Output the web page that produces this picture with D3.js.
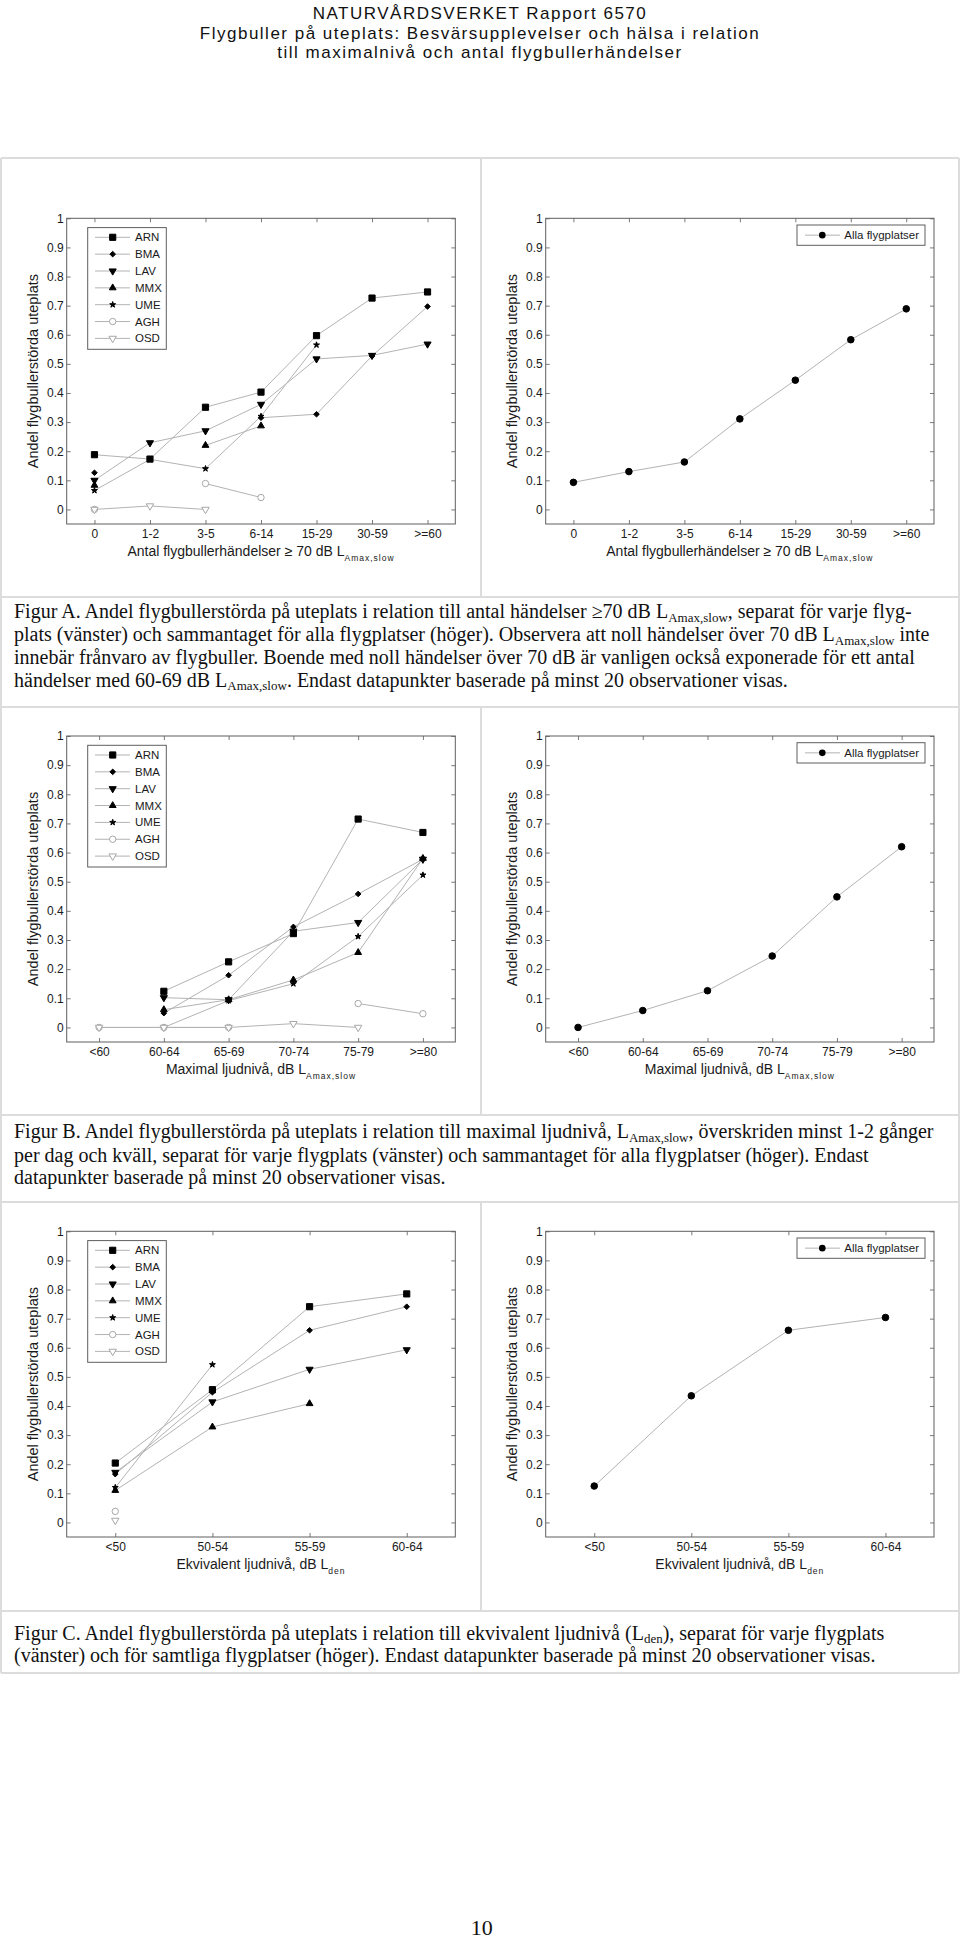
<!DOCTYPE html>
<html><head><meta charset="utf-8">
<script src="https://cdn.jsdelivr.net/npm/d3@7"></script>
<style>body{margin:0;background:#fff}svg{display:block}</style>
</head><body>
<svg id="page" width="960" height="1939"></svg>
<script>
// ---------------- DATA ----------------
const catsA = ["0","1-2","3-5","6-14","15-29","30-59",">=60"];
const catsB = ["<60","60-64","65-69","70-74","75-79",">=80"];
const catsC = ["<50","50-54","55-59","60-64"];
const sites = ["ARN","BMA","LAV","MMX","UME","AGH","OSD"];
const yTicks = [0,0.1,0.2,0.3,0.4,0.5,0.6,0.7,0.8,0.9,1];
const yTickLabels = ["0","0.1","0.2","0.3","0.4","0.5","0.6","0.7","0.8","0.9","1"];
const allLabel = "Alla flygplatser";

// Figur A – antal händelser >= 70 dB
const A_ARN = [0.188,0.173,0.351,0.403,0.597,0.726,0.747];
const A_BMA = [0.126,null,null,0.315,0.327,0.527,0.697];
const A_LAV = [0.100,0.229,0.270,0.361,0.517,0.529,0.568];
const A_MMX = [0.083,null,0.220,0.287,null,null,null];
const A_UME = [0.065,0.172,0.140,0.320,0.565,null,null];
const A_AGH = [0.000,null,0.089,0.041,null,null,null];
const A_OSD = [0.000,0.012,0.000,null,null,null,null];
const A_ALL = [0.093,0.130,0.163,0.311,0.444,0.583,0.689];

// Figur B – maximal ljudnivå
const B_ARN = [null,0.124,0.225,0.322,0.715,0.669];
const B_BMA = [null,0.049,0.179,0.345,0.458,0.577];
const B_LAV = [null,0.102,0.095,0.330,0.360,0.577];
const B_MMX = [null,0.061,0.095,0.163,0.257,0.580];
const B_UME = [null,0.000,0.092,0.150,0.312,0.523];
const B_AGH = [0.000,0.000,0.000,null,0.082,0.047];
const B_OSD = [0.000,0.000,0.000,0.013,0.000,null];
const B_ALL = [0.000,0.058,0.126,0.245,0.448,0.620];

// Figur C – ekvivalent ljudnivå
const C_ARN = [0.204,0.456,0.741,0.785];
const C_BMA = [0.166,0.447,0.660,0.741];
const C_LAV = [0.172,0.414,0.526,0.593];
const C_MMX = [0.110,0.328,0.408,null];
const C_UME = [0.120,0.542,null,null];
const C_AGH = [0.038,null,null,null];
const C_OSD = [0.007,null,null,null];
const C_ALL = [0.125,0.435,0.660,0.704];

const yLabel = "Andel flygbullerstörda uteplats";
const xLabelA = [{t:"Antal flygbullerhändelser \u2265 70 dB L"},{t:"Amax,slow",sub:true}];
const xLabelB = [{t:"Maximal ljudnivå, dB L"},{t:"Amax,slow",sub:true}];
const xLabelC = [{t:"Ekvivalent ljudnivå, dB L"},{t:"den",sub:true}];

const header = ["NATURVÅRDSVERKET Rapport 6570",
  "Flygbuller på uteplats: Besvärsupplevelser och hälsa i relation",
  "till maximalnivå och antal flygbullerhändelser"];

const captionA = [
 [{t:"Figur A. Andel flygbullerstörda på uteplats i relation till antal händelser \u226570 dB L"},{t:"Amax,slow",sub:true},{t:", separat för varje flyg-"}],
 [{t:"plats (vänster) och sammantaget för alla flygplatser (höger). Observera att noll händelser över 70 dB L"},{t:"Amax,slow",sub:true},{t:" inte"}],
 [{t:"innebär frånvaro av flygbuller. Boende med noll händelser över 70 dB är vanligen också exponerade för ett antal"}],
 [{t:"händelser med 60-69 dB L"},{t:"Amax,slow",sub:true},{t:". Endast datapunkter baserade på minst 20 observationer visas."}]
];
const captionB = [
 [{t:"Figur B. Andel flygbullerstörda på uteplats i relation till maximal ljudnivå, L"},{t:"Amax,slow",sub:true},{t:", överskriden minst 1-2 gånger"}],
 [{t:"per dag och kväll, separat för varje flygplats (vänster) och sammantaget för alla flygplatser (höger). Endast"}],
 [{t:"datapunkter baserade på minst 20 observationer visas."}]
];
const captionC = [
 [{t:"Figur C. Andel flygbullerstörda på uteplats i relation till ekvivalent ljudnivå (L"},{t:"den",sub:true},{t:"), separat för varje flygplats"}],
 [{t:"(vänster) och för samtliga flygplatser (höger). Endast datapunkter baserade på minst 20 observationer visas."}]
];
const pageNumber = "10";

// ---------------- STYLE ----------------
const SANS = "'Liberation Sans', Arial, Helvetica, sans-serif";
const SERIF = "'Liberation Serif', 'Times New Roman', serif";
const LINE = "#b3b3b3", FRAME = "#5e5e5e", TICK = "#7a7a7a";
const diamond = d3.symbolDiamond2 || d3.symbolDiamond;
const markerStyle = {
  ARN:{type:d3.symbolSquare,size:38,fill:"#000",stroke:"#000",rot:0},
  BMA:{type:diamond,size:20,fill:"#000",stroke:"#000",rot:0},
  LAV:{type:d3.symbolTriangle,size:22,fill:"#000",stroke:"#000",rot:180},
  MMX:{type:d3.symbolTriangle,size:20,fill:"#000",stroke:"#000",rot:0},
  UME:{type:d3.symbolStar,size:11,fill:"#000",stroke:"#000",rot:0},
  AGH:{type:d3.symbolCircle,size:32,fill:"#fff",stroke:"#a8a8a8",rot:0},
  OSD:{type:d3.symbolTriangle,size:24,fill:"#fff",stroke:"#a8a8a8",rot:180},
  ALL:{type:d3.symbolCircle,size:34,fill:"#000",stroke:"#000",rot:0}
};

const svg = d3.select("#page");
svg.append("rect").attr("width",960).attr("height",1939).attr("fill","#fff");

function rich(sel, parts, subSize, shift, subSpacing){
  parts.forEach((p,i)=>{
    const ts = sel.append("tspan").text(p.t);
    if(p.sub){
      ts.attr("font-size",subSize).attr("dy",shift);
      if(subSpacing) ts.attr("letter-spacing",subSpacing);
    } else if(i>0 && parts[i-1].sub){
      ts.attr("dy",-shift);
    }
  });
}

// ---------------- TABLE ----------------
const tbl = svg.append("g").attr("stroke","#dcdcdc").attr("stroke-width",2).attr("fill","none");
const hLines = [158,597,707,1115,1202,1611,1673];
hLines.forEach(yv=>tbl.append("line").attr("x1",1).attr("x2",959).attr("y1",yv).attr("y2",yv));
tbl.append("line").attr("x1",1).attr("x2",1).attr("y1",158).attr("y2",1673);
tbl.append("line").attr("x1",959).attr("x2",959).attr("y1",158).attr("y2",1673);
[[158,597],[707,1115],[1202,1611]].forEach(([a,b])=>tbl.append("line").attr("x1",481).attr("x2",481).attr("y1",a).attr("y2",b));

// ---------------- HEADER ----------------
const hy = [18.5,38.5,58];
header.forEach((t,i)=>svg.append("text").attr("x",480).attr("y",hy[i]).attr("text-anchor","middle")
  .attr("font-family",SANS).attr("font-size",17).attr("letter-spacing",1.5).attr("fill","#111").text(t));

// ---------------- PANELS ----------------
function panel(cfg){
  const {left,right,top,bottom,cats,series,xLabel,legendKind} = cfg;
  const x = d3.scalePoint().domain(cats).range([left,right]).padding(0.5);
  const y = d3.scaleLinear().domain([-0.05,1]).range([bottom,top]);
  const g = svg.append("g");
  const fmt = d => yTickLabels[yTicks.indexOf(d)];
  const ax = [
    g.append("g").attr("transform",`translate(${left},0)`).call(d3.axisLeft(y).tickValues(yTicks).tickFormat(fmt).tickSize(-4).tickPadding(3)),
    g.append("g").attr("transform",`translate(${right},0)`).call(d3.axisRight(y).tickValues(yTicks).tickFormat("").tickSize(-4)),
    g.append("g").attr("transform",`translate(0,${bottom})`).call(d3.axisBottom(x).tickSize(-4).tickPadding(5)),
    g.append("g").attr("transform",`translate(0,${top})`).call(d3.axisTop(x).tickSize(-4).tickFormat(""))
  ];
  ax.forEach(a=>{
    a.attr("font-family",SANS).attr("font-size",12);
    a.select(".domain").remove();
    a.selectAll(".tick line").attr("stroke",TICK);
    a.selectAll(".tick text").attr("fill","#1a1a1a");
  });
  g.append("rect").attr("x",left).attr("y",top).attr("width",right-left).attr("height",bottom-top)
    .attr("fill","none").attr("stroke",FRAME).attr("stroke-width",1);

  const line = d3.line().defined(d=>d.v!=null).x(d=>x(d.c)).y(d=>y(d.v));
  series.forEach(s=>{
    const pts = cats.map((c,i)=>({c, v:s.values[i]}));
    g.append("path").attr("d",line(pts)).attr("fill","none").attr("stroke",LINE).attr("stroke-width",1);
  });
  series.forEach(s=>{
    const st = markerStyle[s.key];
    const sym = d3.symbol().type(st.type).size(st.size);
    const pts = cats.map((c,i)=>({c, v:s.values[i]})).filter(d=>d.v!=null);
    g.selectAll(null).data(pts).enter().append("path").attr("d",sym)
      .attr("transform",d=>`translate(${x(d.c)},${y(d.v)}) rotate(${st.rot})`)
      .attr("fill",st.fill).attr("stroke",st.stroke).attr("stroke-width",1);
  });

  // legend
  if(legendKind==="sites"){
    const bx=left+21, by=top+9.3, bw=78.6, bh=121.7;
    g.append("rect").attr("x",bx).attr("y",by).attr("width",bw).attr("height",bh).attr("fill","#fff").attr("stroke",FRAME);
    series.forEach((s,i)=>{
      const ey = by+9.7+i*16.85;
      const st = markerStyle[s.key];
      g.append("line").attr("x1",bx+7.3).attr("x2",bx+42.3).attr("y1",ey).attr("y2",ey).attr("stroke",LINE);
      g.append("path").attr("d",d3.symbol().type(st.type).size(st.size)).attr("transform",`translate(${bx+25},${ey}) rotate(${st.rot})`)
        .attr("fill",st.fill).attr("stroke",st.stroke);
      g.append("text").attr("x",bx+47.3).attr("y",ey+4).attr("font-family",SANS).attr("font-size",11.5).attr("fill","#1a1a1a").text(s.key);
    });
  } else {
    const bw=128, bx=right-9-bw, by=top+6.7, bh=20.3;
    const st = markerStyle.ALL;
    g.append("rect").attr("x",bx).attr("y",by).attr("width",bw).attr("height",bh).attr("fill","#fff").attr("stroke",FRAME);
    const ey = by+bh/2;
    g.append("line").attr("x1",bx+8).attr("x2",bx+43).attr("y1",ey).attr("y2",ey).attr("stroke",LINE);
    g.append("path").attr("d",d3.symbol().type(st.type).size(st.size)).attr("transform",`translate(${bx+25.3},${ey})`).attr("fill",st.fill);
    g.append("text").attr("x",bx+47.3).attr("y",ey+4).attr("font-family",SANS).attr("font-size",11.5).attr("fill","#1a1a1a").text(allLabel);
  }

  // axis labels
  const xl = g.append("text").attr("x",(left+right)/2).attr("y",bottom+31.5).attr("text-anchor","middle")
    .attr("font-family",SANS).attr("font-size",14).attr("fill","#1a1a1a");
  rich(xl, xLabel, 8.5, 5, 1);
  g.append("text").attr("transform",`translate(${left-28.5},${(top+bottom)/2}) rotate(-90)`).attr("text-anchor","middle")
    .attr("font-family",SANS).attr("font-size",14.5).attr("fill","#1a1a1a").text(yLabel);
}

const siteSeries = (arrs)=>sites.map((k,i)=>({key:k, values:arrs[i]}));
const LX=[66.7,455.3], RX=[545.7,934];
const rows = [
  {top:218.3,bottom:524, cats:catsA, sites:[A_ARN,A_BMA,A_LAV,A_MMX,A_UME,A_AGH,A_OSD], all:A_ALL, xl:xLabelA},
  {top:736,bottom:1042, cats:catsB, sites:[B_ARN,B_BMA,B_LAV,B_MMX,B_UME,B_AGH,B_OSD], all:B_ALL, xl:xLabelB},
  {top:1231.3,bottom:1537, cats:catsC, sites:[C_ARN,C_BMA,C_LAV,C_MMX,C_UME,C_AGH,C_OSD], all:C_ALL, xl:xLabelC}
];
rows.forEach(r=>{
  panel({left:LX[0],right:LX[1],top:r.top,bottom:r.bottom,cats:r.cats,series:siteSeries(r.sites),xLabel:r.xl,legendKind:"sites"});
  panel({left:RX[0],right:RX[1],top:r.top,bottom:r.bottom,cats:r.cats,series:[{key:"ALL",values:r.all}],xLabel:r.xl,legendKind:"all"});
});

// ---------------- CAPTIONS ----------------
function caption(lines, baselines){
  lines.forEach((parts,i)=>{
    const t = svg.append("text").attr("x",14).attr("y",baselines[i]).attr("font-family",SERIF).attr("font-size",20).attr("fill","#111");
    rich(t, parts, 13, 3.5, 0);
  });
}
caption(captionA,[618,641,663.5,686.5]);
caption(captionB,[1138,1161.5,1184]);
caption(captionC,[1639.5,1662]);

svg.append("text").attr("x",481.7).attr("y",1935).attr("text-anchor","middle").attr("font-family",SERIF)
  .attr("font-size",22).attr("fill","#111").text(pageNumber);
</script>
</body></html>
